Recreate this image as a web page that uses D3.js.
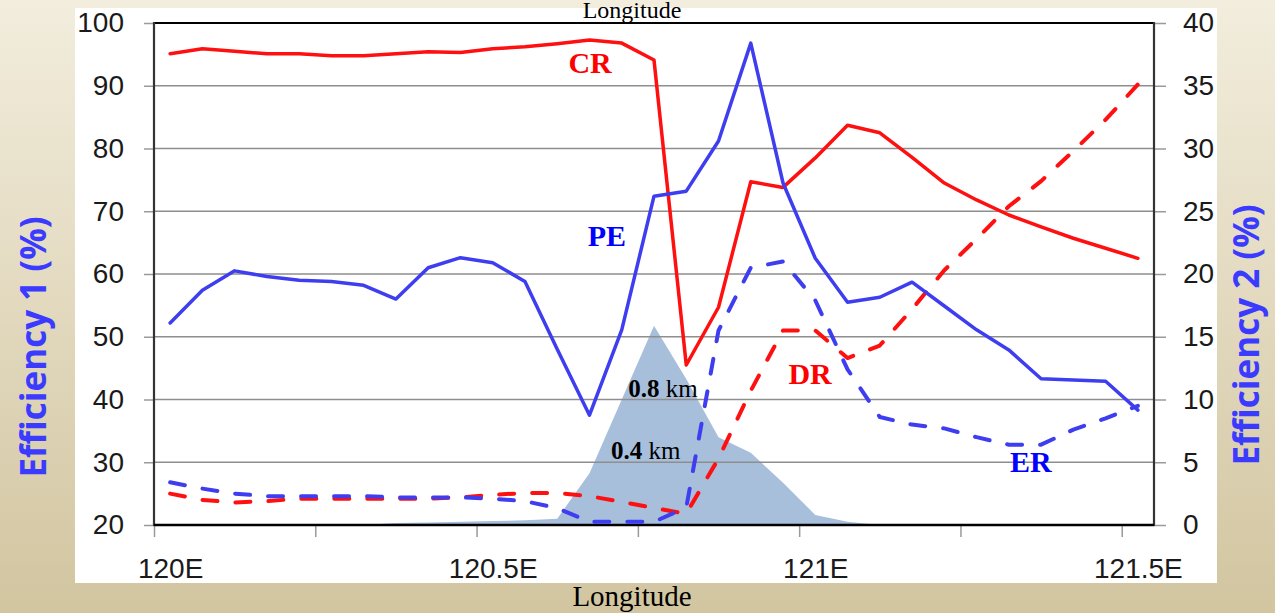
<!DOCTYPE html>
<html>
<head>
<meta charset="utf-8">
<script src="https://cdn.jsdelivr.net/npm/d3@7"></script>
<style>
  html, body { margin: 0; padding: 0; background: #e4dbc0; }
  svg { display: block; }
</style>
</head>
<body>
<svg id="chart" width="1275" height="613"></svg>
<script>
// Longitude categories (degrees E)
const longitudes = [120.00, 120.05, 120.10, 120.15, 120.20, 120.25, 120.30, 120.35, 120.40, 120.45,
                    120.50, 120.55, 120.60, 120.65, 120.70, 120.75, 120.80, 120.85, 120.90, 120.95,
                    121.00, 121.05, 121.10, 121.15, 121.20, 121.25, 121.30, 121.35, 121.40, 121.45, 121.50];

// Efficiency 1 (%) — left axis
const crValues = [95.1, 95.9, 95.5, 95.1, 95.1, 94.8, 94.8, 95.1, 95.4, 95.3, 95.9, 96.2, 96.7, 97.3, 96.8, 94.1,
                  45.5, 54.7, 74.7, 73.8, 78.5, 83.7, 82.5, 78.6, 74.5, 71.8, 69.4, 67.5, 65.7, 64.1, 62.5];
const peValues = [52.2, 57.4, 60.5, 59.6, 59.0, 58.8, 58.2, 56.0, 61.0, 62.6, 61.8, 58.8, 48.0, 37.5, 51.1, 72.4,
                  73.2, 81.2, 96.8, 74.5, 62.5, 55.5, 56.3, 58.7, 54.9, 51.1, 47.9, 43.3, 43.1, 42.9, 38.3];

// Efficiency 2 (%) — right axis
const drValues = [2.5, 2.0, 1.8, 1.9, 2.1, 2.1, 2.1, 2.1, 2.1, 2.2, 2.4, 2.55, 2.55, 2.3, 1.85, 1.35,
                  0.9, 5.3, 10.7, 15.5, 15.5, 13.3, 14.3, 17.2, 20.3, 22.8, 25.4, 27.4, 29.8, 32.3, 35.1];
const erValues = [3.4, 2.9, 2.5, 2.3, 2.3, 2.3, 2.3, 2.2, 2.2, 2.2, 2.1, 1.9, 1.35, 0.25, 0.25, 0.25,
                  1.4, 15.5, 20.5, 21.0, 17.9, 12.4, 8.6, 8.0, 7.7, 7.0, 6.4, 6.4, 7.6, 8.5, 9.5];

// Terrain elevation (km) along the section
const terrainKm = [0, 0, 0, 0, 0, 0, 0, 0.012, 0.016, 0.02, 0.025, 0.03, 0.04, 0.33, 0.8, 1.27,
                   0.93, 0.56, 0.46, 0.27, 0.064, 0.02, 0, 0, 0, 0, 0, 0, 0, 0, 0];

// Axis ticks and labels
const leftTicks = [20, 30, 40, 50, 60, 70, 80, 90, 100];
const rightTicks = [0, 5, 10, 15, 20, 25, 30, 35, 40];
const lonLabelValues = [120.0, 120.5, 121.0, 121.5];
const lonLabelText = ["120E", "120.5E", "121E", "121.5E"];
const lonTickValues = [119.975, 120.225, 120.475, 120.725, 120.975, 121.225, 121.475];

// Series annotations
const seriesLabels = [
  { text: "CR", lon: 120.651, value: 92.0, axis: "left",  color: "#ff0000" },
  { text: "PE", lon: 120.677, value: 64.5, axis: "left",  color: "#0000ff" },
  { text: "DR", lon: 120.992, value: 11.2, axis: "right", color: "#ff0000" },
  { text: "ER", lon: 121.334, value: 4.2,  axis: "right", color: "#0000ff" }
];
const heightLabels = [
  { num: "0.8", unit: " km", lon: 120.764, km: 0.8 },
  { num: "0.4", unit: " km", lon: 120.737, km: 0.4 }
];

const svg = d3.select("#chart");
const W = 1275, H = 613;

// Beige backdrop with vertical shading
const defs = svg.append("defs");
const grad = defs.append("linearGradient").attr("id", "bg").attr("x1", 0).attr("y1", 0).attr("x2", 0).attr("y2", 1);
grad.append("stop").attr("offset", "0%").attr("stop-color", "#f2eddd");
grad.append("stop").attr("offset", "100%").attr("stop-color", "#d2c5a0");
svg.append("rect").attr("width", W).attr("height", H).attr("fill", "url(#bg)");

// White chart panel
svg.append("rect").attr("x", 75).attr("y", 8).attr("width", 1142).attr("height", 575).attr("fill", "#ffffff");

// Plot area
const plot = { left: 154, right: 1154, top: 23, bottom: 525 };

const x = d3.scaleLinear().domain([119.975, 121.525]).range([plot.left, plot.right]);
const yL = d3.scaleLinear().domain([20, 100]).range([plot.bottom, plot.top]);
const yR = d3.scaleLinear().domain([0, 40]).range([plot.bottom, plot.top]);
const yT = d3.scaleLinear().domain([0, 3.2]).range([plot.bottom, plot.top]);

const tickFont = "'Liberation Sans', Arial, sans-serif";
const serif = "'Liberation Serif', 'Times New Roman', serif";

// Terrain profile
const area = d3.area()
  .x((d, i) => x(longitudes[i]))
  .y0(yT(0))
  .y1(d => yT(d));
svg.append("path").datum(terrainKm).attr("d", area).attr("fill", "#a8bfdc");

// Horizontal gridlines (drawn over the terrain)
svg.append("g")
  .selectAll("line")
  .data(leftTicks.filter(v => v > 20 && v < 100))
  .join("line")
  .attr("x1", plot.left).attr("x2", plot.right)
  .attr("y1", d => yL(d)).attr("y2", d => yL(d))
  .attr("stroke", "#8e8e8e").attr("stroke-width", 1.5);

// Left axis
const leftAxis = svg.append("g").attr("transform", `translate(${plot.left},0)`)
  .call(d3.axisLeft(yL).tickValues(leftTicks).tickSize(10).tickPadding(20).tickSizeOuter(0));
// Right axis
const rightAxis = svg.append("g").attr("transform", `translate(${plot.right},0)`)
  .call(d3.axisRight(yR).tickValues(rightTicks).tickSize(12).tickPadding(17).tickSizeOuter(0));
// Bottom tick marks
const bottomTicks = svg.append("g").attr("transform", `translate(0,${plot.bottom})`)
  .call(d3.axisBottom(x).tickValues(lonTickValues).tickSize(12).tickFormat("").tickSizeOuter(0));
// Bottom labels
const bottomLabels = svg.append("g").attr("transform", `translate(0,${plot.bottom})`)
  .call(d3.axisBottom(x).tickValues(lonLabelValues).tickSize(0).tickPadding(33)
        .tickFormat((d, i) => lonLabelText[i]));

[leftAxis, rightAxis, bottomTicks, bottomLabels].forEach(g => {
  g.select(".domain").remove();
  g.selectAll(".tick line").attr("stroke", "#9a9a9a").attr("stroke-width", 1.5);
  g.selectAll(".tick text").attr("fill", "#1a1a1a")
    .style("font-family", tickFont).style("font-size", "28px");
});
bottomLabels.selectAll(".tick text").attr("dy", "0.71em");

// Plot frame
svg.append("line").attr("x1", plot.left).attr("x2", plot.right).attr("y1", plot.top).attr("y2", plot.top)
  .attr("stroke", "#000").attr("stroke-width", 2.2);
svg.append("line").attr("x1", plot.left).attr("x2", plot.left).attr("y1", plot.top - 1).attr("y2", plot.bottom + 1)
  .attr("stroke", "#333").attr("stroke-width", 2.2);
svg.append("line").attr("x1", plot.right).attr("x2", plot.right).attr("y1", plot.top - 1).attr("y2", plot.bottom + 1)
  .attr("stroke", "#333").attr("stroke-width", 2.2);
svg.append("line").attr("x1", plot.left).attr("x2", plot.right).attr("y1", plot.bottom).attr("y2", plot.bottom)
  .attr("stroke", "#000").attr("stroke-width", 2.5);

// Series lines
const lineLeft = d3.line().x((d, i) => x(longitudes[i])).y(d => yL(d));
const lineRight = d3.line().x((d, i) => x(longitudes[i])).y(d => yR(d));

const red = "#ff1010", blue = "#3e3ef0";
const series = [
  { data: drValues, gen: lineRight, color: red,  dashed: true },
  { data: erValues, gen: lineRight, color: blue, dashed: true },
  { data: crValues, gen: lineLeft,  color: red,  dashed: false },
  { data: peValues, gen: lineLeft,  color: blue, dashed: false }
];
series.forEach(s => {
  svg.append("path").datum(s.data).attr("d", s.gen)
    .attr("fill", "none").attr("stroke", s.color)
    .attr("stroke-width", s.dashed ? 4 : 3.5)
    .attr("stroke-linejoin", "round")
    .attr("stroke-linecap", "round")
    .attr("stroke-dasharray", s.dashed ? "15,18" : null);
});

// Series names
svg.append("g").selectAll("text").data(seriesLabels).join("text")
  .attr("x", d => x(d.lon))
  .attr("y", d => d.axis === "left" ? yL(d.value) : yR(d.value))
  .attr("text-anchor", "middle")
  .attr("fill", d => d.color)
  .style("font-family", serif).style("font-weight", "bold").style("font-size", "30px")
  .text(d => d.text);

// Elevation labels
const hl = svg.append("g").selectAll("text").data(heightLabels).join("text")
  .attr("x", d => x(d.lon))
  .attr("y", d => yT(d.km) - 3)
  .attr("text-anchor", "middle")
  .attr("fill", "#000")
  .style("font-family", serif).style("font-size", "25px");
hl.append("tspan").style("font-weight", "bold").text(d => d.num);
hl.append("tspan").text(d => d.unit);

// Axis titles
svg.append("text")
  .attr("transform", "translate(46,347) rotate(-90)")
  .attr("text-anchor", "middle")
  .attr("fill", "#3b3bff")
  .style("font-family", "'Open Sans', sans-serif").style("font-weight", "bold").style("font-size", "35px")
  .text("Efficiency 1 (%)");
svg.append("text")
  .attr("transform", "translate(1259,335) rotate(-90)")
  .attr("text-anchor", "middle")
  .attr("fill", "#3b3bff")
  .style("font-family", "'Open Sans', sans-serif").style("font-weight", "bold").style("font-size", "35px")
  .text("Efficiency 2 (%)");

// "Longitude" captions above and below the panel
svg.append("text").attr("x", 632).attr("y", 18).attr("text-anchor", "middle")
  .attr("fill", "#000").style("font-family", serif).style("font-size", "24px").text("Longitude");
svg.append("text").attr("x", 632).attr("y", 606).attr("text-anchor", "middle")
  .attr("fill", "#000").style("font-family", serif).style("font-size", "29px").text("Longitude");
</script>
</body>
</html>
